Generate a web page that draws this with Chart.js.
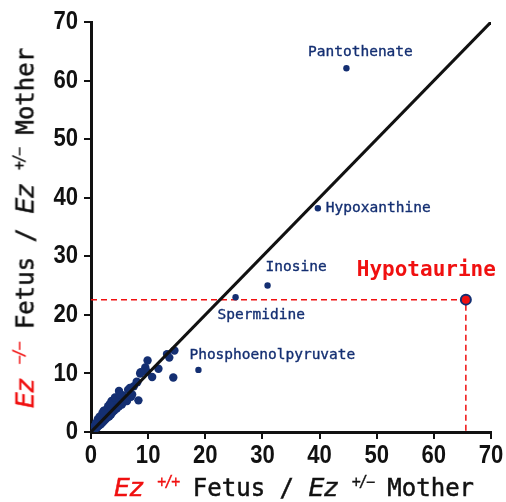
<!DOCTYPE html>
<html>
<head>
<meta charset="utf-8">
<script src="https://cdn.jsdelivr.net/npm/chart.js@4.4.1/dist/chart.umd.min.js"></script>
<style>
  html, body { margin: 0; padding: 0; background: #fff; }
  #wrap { position: relative; width: 506px; height: 502px; }
  canvas { position: absolute; left: 0; top: 0; }
  .title { position: absolute; font-family: "DejaVu Sans Mono", "Liberation Mono", monospace; font-size: 24px; color: #111; white-space: nowrap; line-height: 28px; -webkit-text-stroke: 0.5px currentColor; }
  .red { color: #f01010; }
  .title i { font-family: "DejaVu Sans", sans-serif; font-size: 25px; }
  .title sup { font-size: 15px; vertical-align: 0; position: relative; top: -9px; letter-spacing: -2px; -webkit-text-stroke: 0.3px currentColor; }
  #xTitle { left: 294px; top: 474px; transform: translateX(-50%); }
  #yTitle { left: 27px; top: 228px; transform: translate(-50%, -50%) rotate(-90deg); }
</style>
</head>
<body>
<div id="wrap">
  <canvas id="scatterChart" width="506" height="502"></canvas>
  <div class="title" id="xTitle"><span class="red"><i>Ez</i> <sup>+/+</sup></span> Fetus / <i>Ez</i> <sup>+/&minus;</sup> Mother</div>
  <div class="title" id="yTitle"><span class="red"><i>Ez</i> <sup>&minus;/&minus;</sup></span> Fetus / <i>Ez</i> <sup>+/&minus;</sup> Mother</div>
</div>
<script>
// unlabeled metabolites (fold change: +/+ fetus vs -/- fetus, both over mother)
const clusterX = [0.3, 0.5, 0.6, 0.8, 1.0, 1.1, 1.3, 1.4, 1.6, 1.7, 1.9, 2.0, 2.2, 2.3, 2.5, 2.6, 2.8, 2.9,
  3.1, 3.2, 3.4, 3.5, 3.7, 3.8, 4.0, 4.1, 4.4, 4.5, 4.9, 4.9, 5.2, 5.4, 5.8, 6.3, 7.0, 8.3, 3.6, 8.0,
  8.6, 9.5, 9.8, 9.9, 10.7, 11.8, 13.3, 14.6, 13.7, 14.4, 7.5, 6.5, 2.0, 1.2, 5.5, 6.0, 8.1, 8.7, 0.9, 1.5, 2.4, 3.0,
  2.2, 3.3, 4.2, 5.0, 6.8, 7.2];
const clusterY = [0.5, 0.3, 1.0, 0.6, 1.4, 0.8, 1.7, 1.1, 2.0, 1.3, 2.4, 1.6, 2.7, 1.9, 3.1, 2.2, 3.5, 2.5,
  3.8, 2.7, 4.1, 3.0, 4.5, 3.4, 4.9, 3.7, 5.3, 4.0, 7.0, 4.4, 5.6, 4.7, 5.2, 5.3, 6.0, 5.4, 5.3, 8.6,
  10.0, 11.0, 10.3, 12.2, 9.4, 10.8, 13.3, 13.9, 12.7, 9.3, 7.8, 7.2, 3.2, 2.2, 6.3, 5.8, 8.5, 10.2, 1.6, 2.6, 3.7, 4.4,
  3.6, 4.8, 5.9, 6.5, 7.5, 6.4];

const namedLabels = ["Pantothenate", "Hypoxanthine", "Inosine", "Spermidine", "Phosphoenolpyruvate"];
const namedX = [44.7, 39.7, 30.9, 25.3, 18.8];
const namedY = [62.1, 38.2, 25.0, 23.0, 10.6];

const highlightLabel = "Hypotaurine";
const highlightX = 65.6;
const highlightY = 22.6;

const axisTicks = [0, 10, 20, 30, 40, 50, 60, 70];

const navy = "#142f72";
const red = "#f01010";

// where each label sits relative to its point (px)
const labelOffsets = [[14, -16], [8, 0], [-2, -18], [-18, 18], [-9, -15]];
const labelAlign = ["center", "left", "left", "left", "left"];

const toPoints = (xs, ys) => xs.map((x, i) => ({ x: x, y: ys[i] }));

const pointLabels = {
  id: "pointLabels",
  afterDatasetsDraw(chart) {
    const { ctx, scales } = chart;
    ctx.save();
    ctx.fillStyle = navy;
    ctx.strokeStyle = navy;
    ctx.lineWidth = 0.35;
    ctx.font = "14.5px 'DejaVu Sans Mono', monospace";
    ctx.textBaseline = "middle";
    namedLabels.forEach((name, i) => {
      const px = scales.x.getPixelForValue(namedX[i]);
      const py = scales.y.getPixelForValue(namedY[i]);
      ctx.textAlign = labelAlign[i];
      ctx.fillText(name, px + labelOffsets[i][0], py + labelOffsets[i][1]);
      ctx.strokeText(name, px + labelOffsets[i][0], py + labelOffsets[i][1]);
    });
    ctx.fillStyle = red;
    ctx.font = "bold 21px 'DejaVu Sans Mono', monospace";
    ctx.textAlign = "right";
    const hx = scales.x.getPixelForValue(highlightX);
    const hy = scales.y.getPixelForValue(highlightY);
    ctx.fillText(highlightLabel, hx + 30, hy - 29);
    ctx.restore();
  }
};

// condensed bold tick numbers, placed from each scale
const tickNumbers = {
  id: "tickNumbers",
  afterDraw(chart) {
    const { ctx, scales } = chart;
    ctx.save();
    ctx.fillStyle = "#111";
    ctx.font = "bold 26px 'Liberation Sans', sans-serif";
    ctx.textBaseline = "middle";
    axisTicks.forEach(v => {
      const px = scales.x.getPixelForValue(v);
      ctx.save();
      ctx.translate(px, scales.x.top + 24);
      ctx.scale(0.85, 1);
      ctx.textAlign = "center";
      ctx.fillText(String(v), 0, 0);
      ctx.restore();

      const py = scales.y.getPixelForValue(v);
      ctx.save();
      ctx.translate(scales.y.right - 13, py);
      ctx.scale(0.85, 1);
      ctx.textAlign = "right";
      ctx.fillText(String(v), 0, 0);
      ctx.restore();
    });
    ctx.restore();
  }
};

const axis = (fitKey, fitSize) => ({
  type: "linear",
  min: 0,
  max: 70,
  afterBuildTicks: scale => { scale.ticks = axisTicks.map(v => ({ value: v })); },
  afterFit: scale => { scale[fitKey] = fitSize; },
  ticks: { display: false },
  grid: { display: true, drawOnChartArea: false, drawTicks: true, tickLength: 7, color: "#111", lineWidth: 2 },
  border: { display: true, color: "#111", width: 3 }
});

new Chart("scatterChart", {
  type: "scatter",
  data: {
    datasets: [
      {
        type: "line",
        data: [{ x: 0, y: highlightY }, { x: highlightX, y: highlightY }, { x: highlightX, y: 0 }],
        borderColor: red,
        borderWidth: 1.5,
        borderDash: [6, 4],
        pointRadius: 0,
        fill: false,
        order: 3
      },
      {
        type: "line",
        data: [{ x: 0, y: 0 }, { x: 70, y: 70 }],
        borderColor: "#111",
        borderWidth: 3,
        pointRadius: 0,
        fill: false,
        order: 1
      },
      {
        data: toPoints(clusterX, clusterY),
        backgroundColor: navy,
        borderWidth: 0,
        pointRadius: 4.2,
        order: 2
      },
      {
        data: toPoints(namedX, namedY),
        backgroundColor: navy,
        borderWidth: 0,
        pointRadius: 3.2,
        order: 2
      },
      {
        data: [{ x: highlightX, y: highlightY }],
        backgroundColor: red,
        borderColor: navy,
        borderWidth: 2,
        pointRadius: 5,
        order: 0
      }
    ]
  },
  options: {
    responsive: false,
    animation: false,
    events: [],
    layout: { padding: { top: 22, right: 15, left: 0, bottom: 0 } },
    plugins: { legend: { display: false }, tooltip: { enabled: false } },
    scales: {
      x: axis("height", 70),
      y: axis("width", 91)
    }
  },
  plugins: [pointLabels, tickNumbers]
});
</script>
</body>
</html>
